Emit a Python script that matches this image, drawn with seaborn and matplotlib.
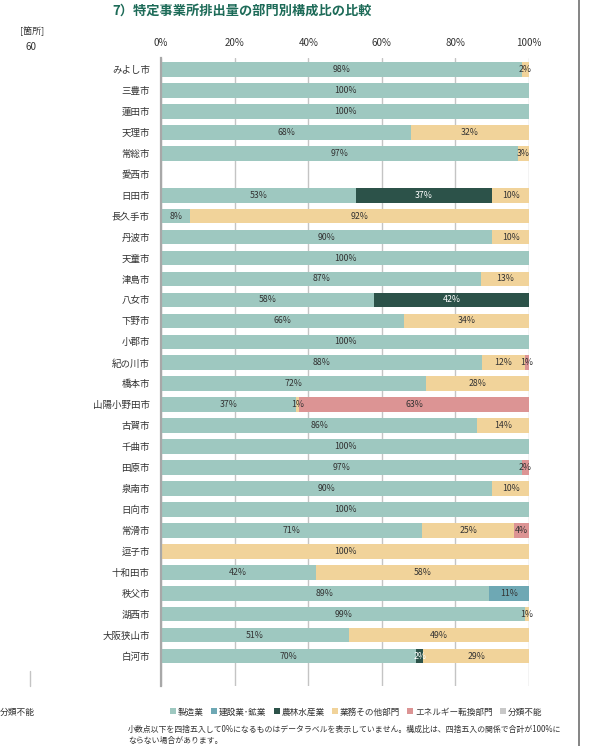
import matplotlib
matplotlib.use("Agg")
import matplotlib.pyplot as plt
from matplotlib.lines import Line2D
import seaborn as sns
import numpy as np
import pandas as pd

cities = ["みよし市", "三豊市", "蓮田市", "天理市", "常総市", "愛西市", "日田市", "長久手市",
          "丹波市", "天童市", "津島市", "八女市", "下野市", "小郡市", "紀の川市", "橋本市",
          "山陽小野田市", "古賀市", "千曲市", "田原市", "泉南市", "日向市", "常滑市", "逗子市",
          "十和田市", "秩父市", "湖西市", "大阪狭山市", "白河市"]
manufacturing = [98, 100, 100, 68, 97, 0, 53, 8, 90, 100, 87, 58, 66, 100, 88, 72,
                 37, 86, 100, 97, 90, 100, 71, 0, 42, 89, 99, 51, 70]
construction = [0] * 25 + [11, 0, 0, 0]
agriculture = [0, 0, 0, 0, 0, 0, 37, 0, 0, 0, 0, 42, 0, 0, 0, 0,
               0, 0, 0, 0, 0, 0, 0, 0, 0, 0, 0, 0, 2]
commercial = [2, 0, 0, 32, 3, 0, 10, 92, 10, 0, 13, 0, 34, 0, 12, 28,
              1, 14, 0, 0, 10, 0, 25, 100, 58, 0, 1, 49, 29]
energy = [0, 0, 0, 0, 0, 0, 0, 0, 0, 0, 0, 0, 0, 0, 1, 0,
          63, 0, 0, 2, 0, 0, 4, 0, 0, 0, 0, 0, 0]
unclassified = [0] * 29

sectors = ["製造業", "建設業･鉱業", "農林水産業", "業務その他部門", "エネルギー転換部門", "分類不能"]
colors = ["#9ec8c0", "#6ea8b4", "#2c5249", "#f1d39a", "#dc9494", "#c8c8c8"]
label_colors = ["#333333", "#333333", "#ffffff", "#333333", "#333333", "#333333"]
xticks = [0, 20, 40, 60, 80, 100]
xtick_labels = ["0%", "20%", "40%", "60%", "80%", "100%"]

n = len(manufacturing)

vals = np.array([manufacturing, construction, agriculture, commercial, energy, unclassified], dtype=float)
tot = vals.sum(axis=0)
norm = np.where(tot > 0, vals / np.where(tot > 0, tot, 1) * 100, 0)
cum = np.cumsum(norm, axis=0)

sns.set_theme(style="white")
plt.rcParams["font.family"] = ["Noto Sans CJK JP", "DejaVu Sans"]

fig = plt.figure(figsize=(5.9, 7.46), dpi=100)
ax = fig.add_axes([161 / 590, 1 - 686 / 746, (529 - 161) / 590, (686 - 58) / 746])

for k in range(len(sectors) - 1, -1, -1):
    df = pd.DataFrame({"city": cities, "v": cum[k]})
    sns.barplot(data=df, x="v", y="city", orient="h", color=colors[k], width=0.7,
                saturation=1, ax=ax, linewidth=0, order=cities)

for i in range(n):
    for k in range(len(sectors)):
        v = vals[k, i]
        if round(v) >= 1:
            c = cum[k, i] - norm[k, i] / 2
            ax.text(c, i, f"{int(round(v))}%", ha="center", va="center",
                    fontsize=6.3, color=label_colors[k], zorder=5)

ax.set_xlim(0, 100)
ax.set_ylim(n - 1 + 1.43, -0.55)
ax.set_xticks(xticks)
ax.set_xticklabels(xtick_labels, fontsize=7, color="#333333")
ax.xaxis.tick_top()
ax.tick_params(axis="x", length=0, pad=7)
ax.tick_params(axis="y", length=0, pad=8, labelsize=6.8, labelcolor="#333333")
ax.set_xlabel("")
ax.set_ylabel("")
for x in xticks:
    ax.axvline(x, color="#c4c4c4", lw=1, zorder=0)
for s in ["top", "right", "bottom"]:
    ax.spines[s].set_visible(False)
ax.spines["left"].set_color("#a8a8a8")
ax.spines["left"].set_linewidth(1.6)
ax.set_axisbelow(True)

fig.text(242 / 590, 1 - 11 / 746, "7）特定事業所排出量の部門別構成比の比較", ha="center", va="center",
         fontsize=9.5, fontweight="bold", color="#1d6b58")
fig.text(20 / 590, 1 - 31 / 746, "[箇所]", ha="left", va="center", fontsize=6.5, color="#333333")
fig.text(31 / 590, 1 - 47 / 746, "60", ha="center", va="center", fontsize=7, color="#333333")
fig.add_artist(Line2D([30 / 590, 30 / 590], [1 - 671 / 746, 1 - 686 / 746], color="#c4c4c4", lw=1))
fig.add_artist(Line2D([579 / 590, 579 / 590], [0, 1], color="#707070", lw=1.2))

handles = [Line2D([0], [0], marker="s", linestyle="", markersize=5, markerfacecolor=c,
                  markeredgewidth=0) for c in colors]
fig.legend(handles, sectors, loc="center", bbox_to_anchor=(356 / 590, 1 - 712 / 746), ncol=6,
           frameon=False, fontsize=6.2, handlelength=0.8, handletextpad=0.15, columnspacing=0.8,
           labelcolor="#333333")
fig.text(0, 1 - 712 / 746, "分類不能", ha="left", va="center", fontsize=6.3, color="#333333")
fig.text(128 / 590, 1 - 729 / 746,
         "小数点以下を四捨五入して0%になるものはデータラベルを表示していません。構成比は、四捨五入の関係で合計が100%に",
         ha="left", va="center", fontsize=5.7, color="#333333")
fig.text(128 / 590, 1 - 740 / 746, "ならない場合があります。", ha="left", va="center",
         fontsize=5.7, color="#333333")

fig.savefig("out.png", dpi=100)
